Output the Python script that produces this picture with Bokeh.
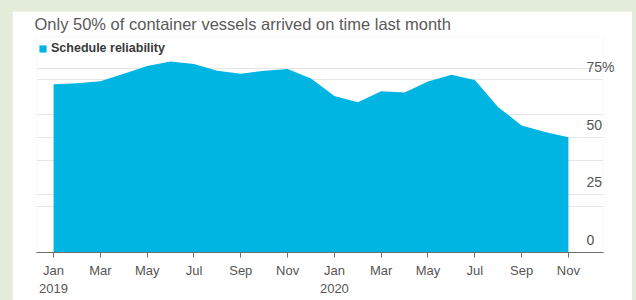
from bokeh.plotting import figure
from bokeh.models import (Range1d, FixedTicker, Grid, Legend, LegendItem,
                          ColumnDataSource, LinearAxis)
from bokeh.embed import file_html
from bokeh.resources import INLINE

# ---- data ----
months = ["2019-01", "2019-02", "2019-03", "2019-04", "2019-05", "2019-06",
          "2019-07", "2019-08", "2019-09", "2019-10", "2019-11", "2019-12",
          "2020-01", "2020-02", "2020-03", "2020-04", "2020-05", "2020-06",
          "2020-07", "2020-08", "2020-09", "2020-10", "2020-11"]
reliability = [73.1, 73.5, 74.4, 77.6, 81.0, 82.9, 81.9, 78.9, 77.6, 78.9,
               79.7, 75.6, 68.0, 65.2, 70.0, 69.5, 74.3, 77.2, 74.9, 63.1,
               55.2, 52.3, 50.1]
xtick_labels = ["Jan\n2019", "Mar", "May", "Jul", "Sep", "Nov",
                "Jan\n2020", "Mar", "May", "Jul", "Sep", "Nov"]
ytick_values = [0, 25, 50, 75]
ytick_labels = ["0", "25", "50", "75%"]
series_name = "Schedule reliability"
title_text = "Only 50% of container vessels arrived on time last month"

FONT = "Liberation Sans"
FILL = "#00b5e2"
TXT = "#555555"

x_idx = list(range(len(months)))
src = ColumnDataSource(dict(x=x_idx, y=reliability))

Y_END = 93.8
LABEL_SHIFT = 5.4  # value units: lifts the right labels above their grid lines

p = figure(width=620, height=289, output_backend="svg", toolbar_location=None,
           x_range=Range1d(-0.73, 23.5), y_range=Range1d(0, Y_END),
           y_axis_location=None,
           min_border_left=24, min_border_right=29, min_border_top=25,
           min_border_bottom=48, margin=(11, 0, 0, 12),
           background_fill_color="white", border_fill_color="white",
           outline_line_color=None)

p.xgrid.visible = False
p.add_layout(Grid(dimension=1, ticker=FixedTicker(ticks=ytick_values[1:]),
                  grid_line_color="#e6e6e6", grid_line_width=1))

r = p.varea(x="x", y1=0, y2="y", source=src, fill_color=FILL)

# x axis
tick_pos = x_idx[::2]
ax = p.xaxis[0]
ax.ticker = FixedTicker(ticks=tick_pos)
ax.major_label_overrides = {t: lab for t, lab in zip(tick_pos, xtick_labels)}
ax.axis_line_color = "#6e6e6e"
ax.axis_line_width = 1.2
ax.major_tick_line_color = "#6e6e6e"
ax.major_tick_in = 0
ax.major_tick_out = 5
ax.minor_tick_line_color = None
ax.major_label_text_font = FONT
ax.major_label_text_font_size = "13px"
ax.major_label_text_color = TXT
ax.major_label_standoff = 5

# right value labels, drawn just above the grid lines, inside the frame
p.extra_y_ranges = {"lab": Range1d(-LABEL_SHIFT, Y_END - LABEL_SHIFT)}
yax = LinearAxis(y_range_name="lab", ticker=FixedTicker(ticks=ytick_values),
                 major_label_overrides={v: t for v, t in zip(ytick_values, ytick_labels)},
                 axis_line_color=None, major_tick_line_color=None,
                 minor_tick_line_color=None, major_tick_in=0, major_tick_out=0,
                 major_label_standoff=-17, major_label_text_font=FONT,
                 major_label_text_font_size="14px", major_label_text_color=TXT)
p.add_layout(yax, "right")

# legend
legend = Legend(items=[LegendItem(label=series_name, renderers=[r])],
                location=(2, 197), margin=0, padding=0,
                glyph_width=9, glyph_height=9, label_standoff=4,
                label_text_font=FONT, label_text_font_size="12.5px",
                label_text_font_style="bold",
                label_text_color="#3a3a3a", background_fill_alpha=0,
                border_line_alpha=0)
p.add_layout(legend)

# title
p.title.text = title_text
p.title.text_font = FONT
p.title.text_font_size = "16.5px"
p.title.text_font_style = "normal"
p.title.text_color = "#5a5a5a"
p.title.align = "left"
p.title.vertical_align = "top"
p.title.offset = -2
p.title.standoff = 4

html = file_html(p, INLINE)
css = "<style>html,body{margin:0;padding:0;background-color:#e3ecd9;overflow:hidden;}</style>"
html = html.replace("</head>", css + "</head>", 1)
open("out.html", "w").write(html)
